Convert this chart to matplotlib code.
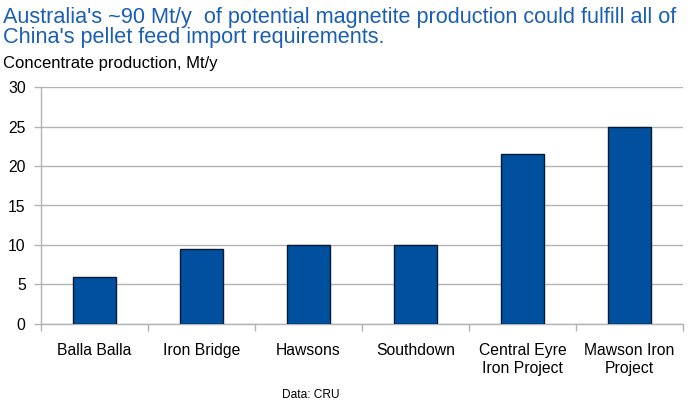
import matplotlib.pyplot as plt
import numpy as np

plt.rcParams['font.family'] = ['Liberation Sans', 'DejaVu Sans']

# data (Mt/y concentrate)
projects = ['Balla Balla', 'Iron Bridge', 'Hawsons', 'Southdown',
            'Central Eyre\nIron Project', 'Mawson Iron\nProject']
production = [6, 9.5, 10, 10, 21.5, 25]
y_ticks = [0, 5, 10, 15, 20, 25, 30]

fig = plt.figure(figsize=(6.98, 4.11), dpi=100)
ax = fig.add_axes([0.0587, 0.2117, 0.9198, 0.5766])

x = np.arange(len(projects))
ax.bar(x, production, width=0.4, color='#00509f', edgecolor='#0a1a33',
       linewidth=1, zorder=3)

ax.set_xlim(-0.5, len(projects) - 0.5)
ax.set_ylim(0, 30)
ax.set_yticks(y_ticks)
ax.yaxis.grid(True, color='#b3b3b3', linewidth=1, zorder=0)

# category labels centred, tick marks between categories
ax.set_xticks(x)
ax.set_xticklabels(projects, fontsize=11.3, linespacing=1.25)
ax.tick_params(axis='x', length=0, pad=14)
ax.set_xticks(np.arange(-0.5, len(projects)), minor=True)
ax.tick_params(axis='x', which='minor', length=5, color='#b3b3b3', width=1)
ax.tick_params(axis='y', length=5, color='#b3b3b3', width=1, labelsize=11.3, pad=6)

for s in ['top', 'right']:
    ax.spines[s].set_visible(False)
for s in ['left', 'bottom']:
    ax.spines[s].set_color('#b3b3b3')
    ax.spines[s].set_linewidth(1)

fig.text(0.004, 0.984, "Australia's ~90 Mt/y  of potential magnetite production could fulfill all of\n"
         "China's pellet feed import requirements.",
         ha='left', va='top', fontsize=15.6, color='#1a5fb4', linespacing=0.97)
fig.text(0.004, 0.835, 'Concentrate production, Mt/y', ha='left', va='baseline',
         fontsize=12, color='black')
fig.text(0.445, 0.025, 'Data: CRU', ha='center', va='bottom', fontsize=8.6)

fig.savefig('out.png', dpi=100)
